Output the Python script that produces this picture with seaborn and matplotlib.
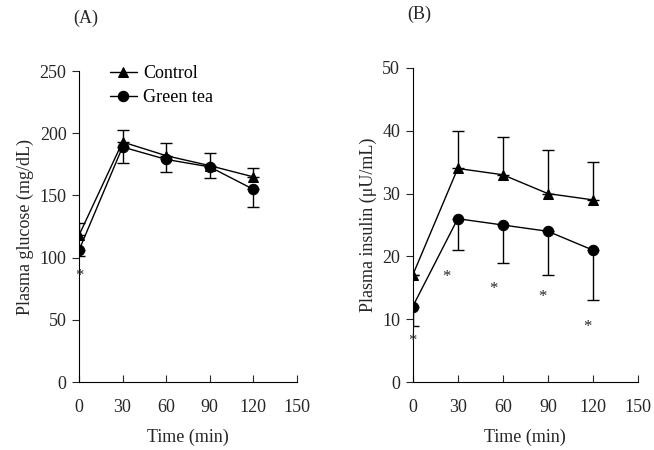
import matplotlib
matplotlib.use("Agg")
import matplotlib.pyplot as plt
import seaborn as sns
import pandas as pd
import numpy as np

# ---- data ----
time_min = [0, 30, 60, 90, 120]
groups = ["Control", "Green tea"]

glucose_control = [118, 193, 182, 174, 165]
glucose_control_err = [10, 10, 10, 10, 7]       # upper error
glucose_greentea = [106, 189, 179, 173, 155]
glucose_greentea_err = [5, 13, 10, 9, 14]       # lower error

insulin_control = [17, 34, 33, 30, 29]
insulin_control_err = [0, 6, 6, 7, 6]           # upper error
insulin_greentea = [12, 26, 25, 24, 21]
insulin_greentea_err = [3, 5, 6, 7, 8]          # lower error

glucose_star_x = [0]
glucose_star_y = [85]
insulin_star_x = [0, 22.5, 54, 86.5, 116]
insulin_star_y = [6.6, 16.8, 14.8, 13.6, 8.8]

panel_titles = ["(A)", "(B)"]
ylabels = ["Plasma glucose (mg/dL)", "Plasma insulin (\u03bcU/mL)"]
xlabel = "Time (min)"
xticks = [0, 30, 60, 90, 120, 150]
glucose_yticks = [0, 50, 100, 150, 200, 250]
insulin_yticks = [0, 10, 20, 30, 40, 50]

sns.set_style("white")
plt.rcParams["font.family"] = ["Liberation Serif", "DejaVu Serif"]

fig = plt.figure(figsize=(6.54, 4.5), dpi=100)
axA = fig.add_axes([0.1208, 0.151, 0.333, 0.691])
axB = fig.add_axes([0.631, 0.151, 0.3445, 0.698])


def draw(ax, ctrl, ctrl_err, gt, gt_err, yticks, ylabel, title, sx, sy, legend):
    df = pd.DataFrame({
        "time": time_min * 2,
        "value": ctrl + gt,
        "group": [groups[0]] * len(time_min) + [groups[1]] * len(time_min),
    })
    sns.lineplot(data=df, x="time", y="value", hue="group", style="group",
                 palette=["black", "black"], markers=["^", "o"], dashes=False,
                 markersize=7.5, linewidth=1.0, markeredgecolor="black",
                 ax=ax, legend=legend)
    zeros = [0] * len(time_min)
    ax.errorbar(time_min, ctrl, yerr=[zeros, ctrl_err], fmt="none",
                ecolor="black", elinewidth=1.0, capsize=4.5, capthick=1.0)
    ax.errorbar(time_min, gt, yerr=[gt_err, zeros], fmt="none",
                ecolor="black", elinewidth=1.0, capsize=4.5, capthick=1.0)
    for x, y in zip(sx, sy):
        ax.text(x, y, "*", ha="center", va="center", fontsize=12)
    ax.set_xlim(0, 150)
    ax.set_ylim(yticks[0], yticks[-1])
    ax.set_xticks(xticks)
    ax.set_yticks(yticks)
    ax.tick_params(axis="x", direction="in", length=5, width=0.8, labelsize=13, pad=12)
    ax.tick_params(axis="y", direction="out", length=5, width=0.8, labelsize=13, pad=4)
    ax.tick_params(bottom=True, left=True)
    for s in ["top", "right"]:
        ax.spines[s].set_visible(False)
    for s in ["left", "bottom"]:
        ax.spines[s].set_color("black")
        ax.spines[s].set_linewidth(0.8)
    ax.set_xlabel(xlabel, fontsize=13, labelpad=9)
    ax.set_ylabel(ylabel, fontsize=13)
    ax.text(0.03, 1.17, title, transform=ax.transAxes,
            ha="center", va="center", fontsize=13)


draw(axA, glucose_control, glucose_control_err, glucose_greentea, glucose_greentea_err,
     glucose_yticks, ylabels[0], panel_titles[0], glucose_star_x, glucose_star_y, True)
draw(axB, insulin_control, insulin_control_err, insulin_greentea, insulin_greentea_err,
     insulin_yticks, ylabels[1], panel_titles[1], insulin_star_x, insulin_star_y, False)

leg = axA.legend(loc="upper left", bbox_to_anchor=(0.066, 1.072), frameon=False,
                 fontsize=13, handlelength=1.5, handletextpad=0.35, labelspacing=0.4)
for t in leg.get_texts():
    t.set_color("black")

fig.savefig("out.png", dpi=100)
